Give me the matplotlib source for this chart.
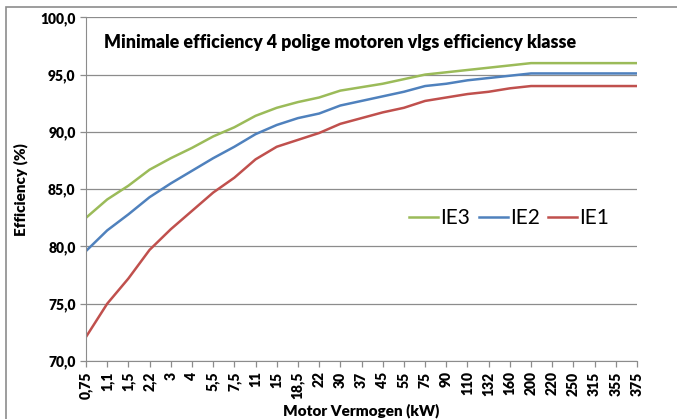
import matplotlib.pyplot as plt
from matplotlib.patches import Rectangle

kw = ['0,75', '1,1', '1,5', '2,2', '3', '4', '5,5', '7,5', '11', '15', '18,5', '22',
      '30', '37', '45', '55', '75', '90', '110', '132', '160', '200', '220', '250',
      '315', '355', '375']
ie3 = [82.5, 84.1, 85.3, 86.7, 87.7, 88.6, 89.6, 90.4, 91.4, 92.1, 92.6, 93.0,
       93.6, 93.9, 94.2, 94.6, 95.0, 95.2, 95.4, 95.6, 95.8, 96.0, 96.0, 96.0,
       96.0, 96.0, 96.0]
ie2 = [79.6, 81.4, 82.8, 84.3, 85.5, 86.6, 87.7, 88.7, 89.8, 90.6, 91.2, 91.6,
       92.3, 92.7, 93.1, 93.5, 94.0, 94.2, 94.5, 94.7, 94.9, 95.1, 95.1, 95.1,
       95.1, 95.1, 95.1]
ie1 = [72.1, 75.0, 77.2, 79.7, 81.5, 83.1, 84.7, 86.0, 87.6, 88.7, 89.3, 89.9,
       90.7, 91.2, 91.7, 92.1, 92.7, 93.0, 93.3, 93.5, 93.8, 94.0, 94.0, 94.0,
       94.0, 94.0, 94.0]
yticks = [70, 75, 80, 85, 90, 95, 100]

plt.rcParams['font.family'] = ['Lato', 'DejaVu Sans']

fig = plt.figure(figsize=(6.77, 4.19), dpi=100)
fig.patches.append(Rectangle((6 / 677, -0.1), 1.1, 1.1 - 7 / 419,
                             transform=fig.transFigure, fill=False,
                             edgecolor='#8c8c8c', linewidth=1.2))
ax = fig.add_axes([86 / 677, 1 - 361 / 419, (637 - 86) / 677, (361 - 17.3) / 419])

x = list(range(len(kw)))
ax.plot(x, ie3, color='#9BBB59', lw=1.8, label='IE3')
ax.plot(x, ie2, color='#4F81BD', lw=1.8, label='IE2')
ax.plot(x, ie1, color='#C0504D', lw=1.8, label='IE1')

ax.set_xlim(0, len(kw) - 1)
ax.set_ylim(70, 100)
ax.set_yticks(yticks)
ax.set_yticklabels([f'{v:.1f}'.replace('.', ',') for v in yticks],
                   fontweight='heavy', fontsize=10)
ax.set_xticks(x)
ax.set_xticklabels(kw, rotation=90, fontweight='heavy', fontsize=10)
ax.yaxis.grid(True, color='#8c8c8c', lw=0.9)
ax.set_axisbelow(True)
for s in ['top', 'right']:
    ax.spines[s].set_visible(False)
for s in ['left', 'bottom']:
    ax.spines[s].set_color('#8c8c8c')
ax.tick_params(color='#8c8c8c', length=4, width=0.9)

ax.set_ylabel('Efficiency (%)', fontweight='heavy', fontsize=11, labelpad=9)
ax.set_xlabel('Motor Vermogen (kW)', fontweight='heavy', fontsize=11, labelpad=3)
ax.text(0.033, 0.928, 'Minimale efficiency 4 polige motoren vlgs efficiency klasse',
        transform=ax.transAxes, fontweight='heavy', fontsize=12.8, va='center')
ax.legend(loc='center', bbox_to_anchor=(0.768, 0.416), ncol=3, frameon=False,
          fontsize=15, handlelength=1.4, handletextpad=0.1, columnspacing=0.4)

fig.savefig('out.png', dpi=100)
